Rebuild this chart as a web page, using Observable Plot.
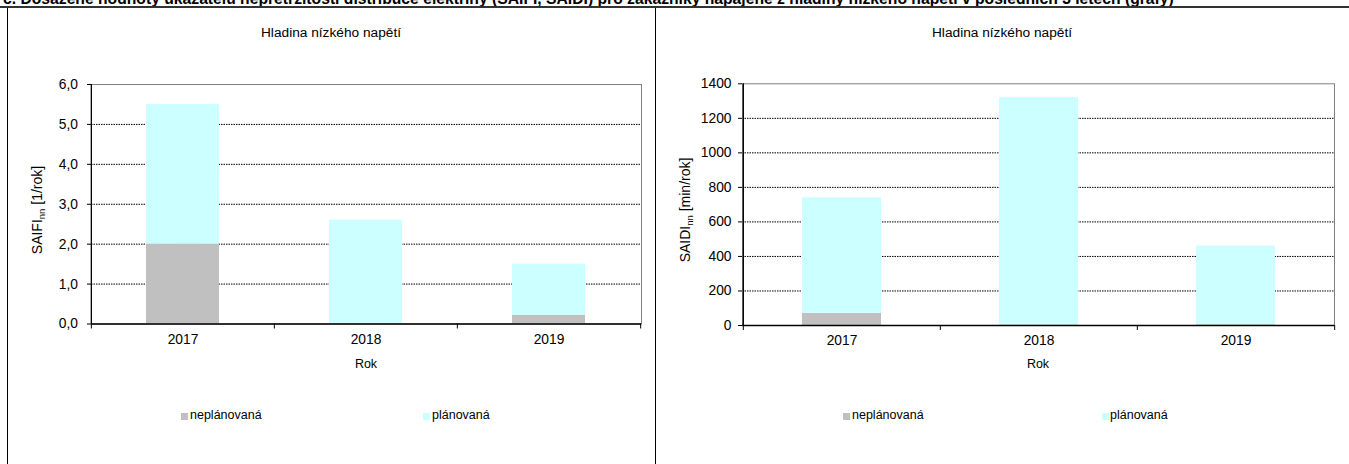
<!DOCTYPE html>
<html>
<head>
<meta charset="utf-8">
<script src="https://cdn.jsdelivr.net/npm/d3@7"></script>
<script src="https://cdn.jsdelivr.net/npm/@observablehq/plot@0.6"></script>
<style>
  html, body { margin: 0; padding: 0; background: #fff; }
  body { width: 1349px; height: 464px; position: relative; overflow: hidden; font-family: "Liberation Sans", Arial, sans-serif; color: #000; }
  .abs { position: absolute; white-space: nowrap; }
  .title { font-weight: bold; font-size: 15.7px; left: 3px; top: -10px; }
  .ctitle { font-size: 13.7px; transform: translateX(-50%); top: 25px; }
  .ylab { font-size: 14px; transform: translate(-50%, -50%) rotate(-90deg); }
  .ylab sub { font-size: 9.5px; vertical-align: -3px; }
  .xlab { font-size: 12.5px; transform: translateX(-50%); }
  .leg { font-size: 12.5px; top: 408px; }
  .sw { position: absolute; width: 7px; height: 7px; top: 413px; }
  .line { position: absolute; background: #000; }
  #left svg text, #right svg text { font-size: 13.8px; }
</style>
</head>
<body>
<div class="abs title">c. Dosažené hodnoty ukazatelů nepřetržitosti distribuce elektřiny (SAIFI, SAIDI) pro zákazníky napájené z hladiny nízkého napětí v posledních 3 letech (grafy)</div>
<div class="line" style="left:0;top:6px;width:1349px;height:2px;background:#333"></div>
<div class="line" style="left:7px;top:8px;width:1px;height:456px"></div>
<div class="line" style="left:655px;top:8px;width:1px;height:456px"></div>

<div id="left" class="abs" style="left:0;top:0"></div>
<div id="right" class="abs" style="left:656px;top:0"></div>

<div class="abs ctitle" style="left:331px">Hladina nízkého napětí</div>
<div class="abs ctitle" style="left:1002px">Hladina nízkého napětí</div>

<div class="abs ylab" style="left:38px;top:210px">SAIFI<sub>nn</sub> [1/rok]</div>
<div class="abs ylab" style="left:686px;top:210px">SAIDI<sub>nn</sub> [min/rok]</div>

<div class="abs xlab" style="left:366px;top:357px">Rok</div>
<div class="abs xlab" style="left:1038px;top:357px">Rok</div>

<div class="sw" style="left:181px;background:#c0c0c0"></div>
<div class="abs leg" style="left:190px">neplánovaná</div>
<div class="sw" style="left:423px;background:#ccffff"></div>
<div class="abs leg" style="left:432px">plánovaná</div>
<div class="sw" style="left:843px;background:#c0c0c0"></div>
<div class="abs leg" style="left:852px">neplánovaná</div>
<div class="sw" style="left:1102px;background:#ccffff"></div>
<div class="abs leg" style="left:1110px">plánovaná</div>

<script>
const years = ["2017", "2018", "2019"];
const seriesNames = ["neplánovaná", "plánovaná"];
const seriesColors = ["#c0c0c0", "#ccffff"];

const saifiUnplanned = [2.0, 0.02, 0.22];
const saifiPlanned = [3.5, 2.58, 1.28];
const saifiTicks = [0, 1, 2, 3, 4, 5, 6];

const saidiUnplanned = [70, 3, 4];
const saidiPlanned = [670, 1317, 456];
const saidiTicks = [0, 200, 400, 600, 800, 1000, 1200, 1400];

function rowsOf(unpl, pl) {
  const rows = [];
  years.forEach((y, i) => {
    rows.push({year: y, type: seriesNames[0], value: unpl[i]});
    rows.push({year: y, type: seriesNames[1], value: pl[i]});
  });
  return rows;
}

function makeChart({rows, ticks, fmt, width, height, mL, mR, mT, mB, pad}) {
  const plotW = width - mL - mR;
  const plotH = height - mT - mB;
  const step = plotW / years.length;
  return Plot.plot({
    width, height,
    marginLeft: mL, marginRight: mR, marginTop: mT, marginBottom: mB,
    style: {fontFamily: "'Liberation Sans', Arial, sans-serif", fontSize: "14px", color: "#000", background: "transparent", overflow: "visible"},
    x: {domain: years, paddingInner: 0.6, paddingOuter: 0.3, axis: null},
    y: {domain: [ticks[0], ticks[ticks.length - 1]], axis: null},
    color: {domain: seriesNames, range: seriesColors},
    marks: [
      Plot.ruleY(ticks.slice(1, -1), {stroke: "#000", strokeDasharray: "1.5,1"}),
      Plot.frame({stroke: "#808080"}),
      Plot.barY(rows, {x: "year", y: "value", fill: "type"}),
      Plot.ruleY([ticks[0]], {stroke: "#000", strokeWidth: 1.3}),
      Plot.ruleX([years[0]], {dx: -step / 2, stroke: "#000", strokeWidth: 1.3}),
      Plot.ruleX(years, {dx: -step / 2, insetTop: plotH, insetBottom: -5, stroke: "#000"}),
      Plot.ruleX([years[years.length - 1]], {dx: step / 2, insetTop: plotH, insetBottom: -5, stroke: "#000"}),
      Plot.axisY({ticks, tickSize: 4, tickPadding: pad, tickFormat: fmt, label: null, fontSize: 14}),
      Plot.axisX({tickSize: 0, tickPadding: 10, label: null, fontSize: 14})
    ]
  });
}

document.getElementById("left").appendChild(makeChart({
  rows: rowsOf(saifiUnplanned, saifiPlanned),
  ticks: saifiTicks,
  fmt: d => d.toFixed(1).replace(".", ","),
  width: 655, height: 464, mL: 91, mR: 14, mT: 84, mB: 140.5, pad: 9.5
}));

document.getElementById("right").appendChild(makeChart({
  rows: rowsOf(saidiUnplanned, saidiPlanned),
  ticks: saidiTicks,
  fmt: d => String(d),
  width: 693, height: 464, mL: 86, mR: 15, mT: 83.3, mB: 139, pad: 7
}));
</script>
</body>
</html>
